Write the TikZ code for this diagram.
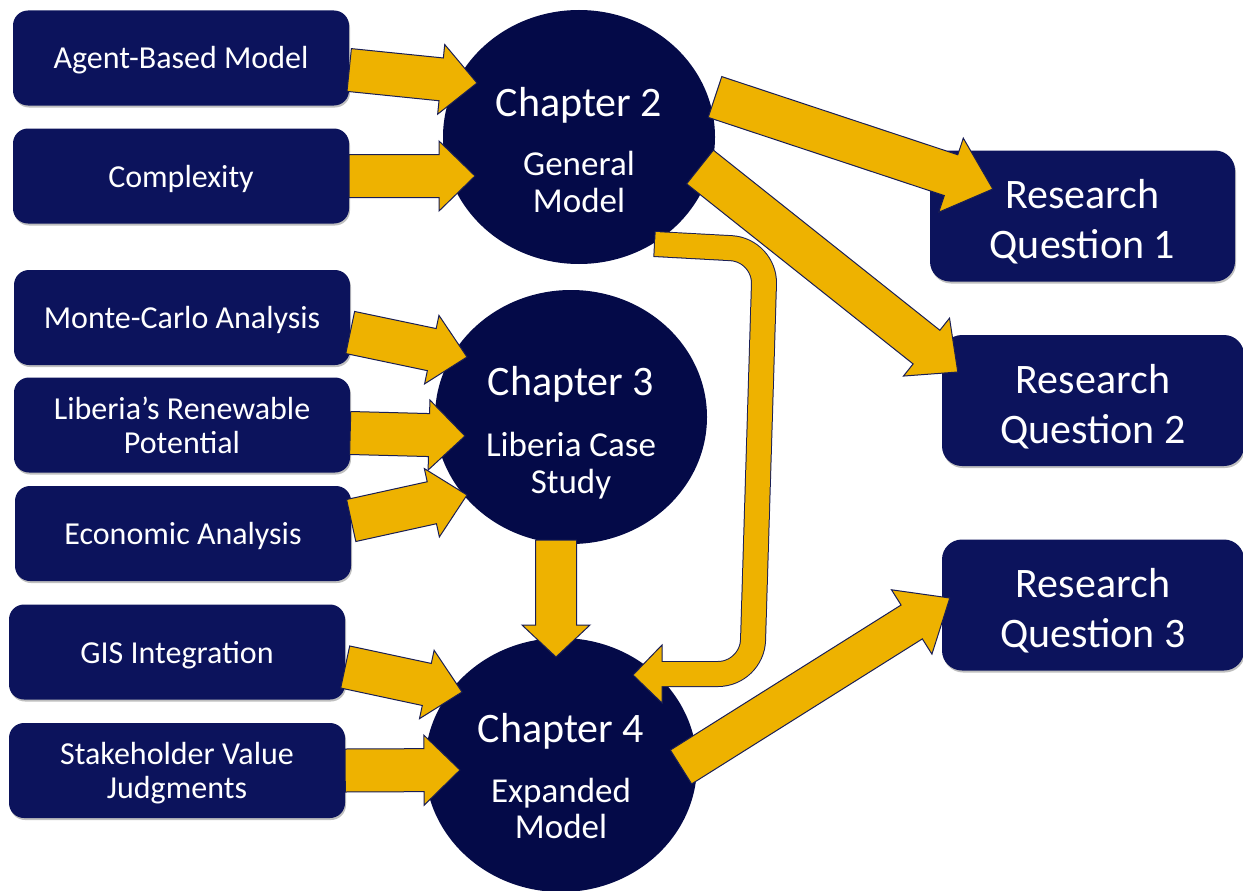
\documentclass[tikz,border=0pt]{standalone}
\usepackage{fontspec}
\setmainfont{Carlito}
\usetikzlibrary{calc,shapes.geometric,shadows}
\definecolor{boxnavy}{RGB}{12,19,92}
\definecolor{circnavy}{RGB}{4,10,72}
\definecolor{gold}{RGB}{238,178,0}
\definecolor{edgenavy}{RGB}{25,30,85}
\newcommand{\blockarr}[5]{%
  \coordinate (ba-s) at #1;
  \coordinate (ba-e) at #2;
  \coordinate (ba-h) at ($(ba-e)!#5!(ba-s)$);
  \filldraw[fatarrow] ($(ba-s)!#3!90:(ba-e)$) -- ($(ba-h)!#3!90:(ba-e)$) -- ($(ba-h)!#4!90:(ba-e)$) -- (ba-e) -- ($(ba-h)!#4!-90:(ba-e)$) -- ($(ba-h)!#3!-90:(ba-e)$) -- ($(ba-s)!#3!-90:(ba-e)$) -- cycle;}
\newcommand{\rqstrut}{\rule{0pt}{41pt}}
\begin{document}
\begin{tikzpicture}[x=1pt,y=-1pt,
  inbox/.style={rectangle, rounded corners=15pt, fill=boxnavy, text=white, inner sep=0pt,
    minimum width=336pt, minimum height=95pt, align=center, font=\fontsize{32}{34}\selectfont,
    drop shadow={shadow xshift=1pt, shadow yshift=-2pt, opacity=0.25, fill=black}},
  oneline/.style={text height=22pt, text depth=0pt},
  rqbox/.style={rectangle, rounded corners=20pt, fill=boxnavy, text=white, inner sep=0pt,
    minimum width=302pt, minimum height=131pt, align=center, font=\fontsize{42}{50}\selectfont,
    drop shadow={shadow xshift=1pt, shadow yshift=-2pt, opacity=0.25, fill=black}},
  chap/.style={ellipse, fill=circnavy, minimum width=272pt, minimum height=254pt, inner sep=0pt},
  chtitle/.style={text=white, font=\fontsize{42}{50}\selectfont, inner sep=0pt, anchor=base},
  chsub/.style={text=white, font=\fontsize{35}{37}\selectfont, inner sep=0pt, anchor=base},
  fatarrow/.style={fill=gold, draw=edgenavy, line width=1pt, line join=miter}]
\useasboundingbox[fill=white] (0,0) rectangle (1243,891);

% input boxes
\node[inbox,oneline] (abm) at (181,58) {Agent-Based Model};
\node[inbox,oneline] (cpx) at (181,176) {Complexity};
\node[inbox,oneline] (mca) at (182,317.5) {Monte-Carlo Analysis};
\node[inbox] (lib) at (182,425) {Liberia’s Renewable\\Potential};
\node[inbox,oneline] (eco) at (183,533.5) {Economic Analysis};
\node[inbox,oneline] (gis) at (177,652) {GIS Integration};
\node[inbox] (svj) at (177,770.5) {\rule{0pt}{28pt}Stakeholder Value\\Judgments};

% research question boxes
\node[rqbox, minimum width=305pt] (rq1) at (1082.5,216) {\rqstrut Research\\Question 1};
\node[rqbox] (rq2) at (1093,400.5) {\rqstrut Research\\Question 2};
\node[rqbox] (rq3) at (1093,605) {\rqstrut Research\\Question 3};

% chapters
\node[chap] (ch2) at (579,137) {};
\node[chap] (ch3) at (571,417) {};
\node[chap] (ch4) at (561,765) {};

\node[chtitle] (ch2a) at ($(ch2.center)+(0,-21)$) {Chapter 2};
\node[chsub] (ch2b) at ($(ch2.center)+(0,38)$) {General};
\node[chsub] (ch2c) at ($(ch2.center)+(0,75)$) {Model};
\node[chtitle] (ch3a) at ($(ch3.center)+(0,-22)$) {Chapter 3};
\node[chsub] (ch3b) at ($(ch3.center)+(0,39)$) {Liberia Case};
\node[chsub] (ch3c) at ($(ch3.center)+(0,76)$) {Study};
\node[chtitle] (ch4a) at ($(ch4.center)+(0,-23)$) {Chapter 4};
\node[chsub] (ch4b) at ($(ch4.center)+(0,37)$) {Expanded};
\node[chsub] (ch4c) at ($(ch4.center)+(0,73)$) {Model};

% curved arrow chapter 2 -> chapter 4
\coordinate (cvs) at ($(ch2.center)+(76,107)$);
\coordinate (cv1) at ($(ch2.center)+(186,113)$);
\coordinate (cv2) at ($(ch4.center)+(191,-91)$);
\coordinate (cvh) at ($(ch4.center)+(101,-91)$);
\coordinate (cvt) at ($(ch4.center)+(72,-90)$);
\draw[edgenavy, line width=26pt, rounded corners=34pt] ($(cvs)+(-1,0)$) -- (cv1) -- (cv2) -- (cvh);
\filldraw[fatarrow] ($(cvh)+(0,-29)$) -- (cvt) -- ($(cvh)+(0,29)$) -- cycle;
\draw[gold, line width=24pt, rounded corners=34pt] (cvs) -- (cv1) -- (cv2) -- ($(cvh)+(-2,0)$);

% inputs to chapters
\blockarr{($(abm.east)+(0,12)$)}{($(ch2.center)+(-102,-54)$)}{21.5pt}{35pt}{36pt}
\blockarr{(cpx.east)}{($(ch2.center)+(-104,39)$)}{21.5pt}{35pt}{36pt}
\blockarr{($(mca.east)+(0,15)$)}{($(ch3.center)+(-104,-60)$)}{21.5pt}{35pt}{36pt}
\blockarr{($(lib.east)+(0,8)$)}{($(ch3.center)+(-106,19)$)}{21.5pt}{35pt}{36pt}
\blockarr{($(eco.east)+(0,-13)$)}{($(ch3.center)+(-104,78)$)}{21.5pt}{35pt}{36pt}
\blockarr{($(gis.east)+(0,15)$)}{($(ch4.center)+(-99,-73)$)}{21.5pt}{35pt}{36pt}
\blockarr{(svj.east)}{($(ch4.center)+(-101,5)$)}{21.5pt}{35pt}{36pt}

% chapter 3 -> chapter 4
\blockarr{($(ch3.center)+(-15,123)$)}{($(ch4.center)+(-5,-108)$)}{20.5pt}{34pt}{32pt}

% chapters to research questions
\blockarr{($(ch2.center)+(136,-40)$)}{($(rq1.west)+(63,-27)$)}{21.5pt}{39pt}{44pt}
\blockarr{($(ch2.center)+(121,30)$)}{($(rq2.west)+(16,-28.5)$)}{21.5pt}{37pt}{40pt}
\blockarr{($(ch4.center)+(120,2)$)}{($(rq3.west)+(8,-7)$)}{20pt}{38pt}{45pt}
\end{tikzpicture}
\end{document}
